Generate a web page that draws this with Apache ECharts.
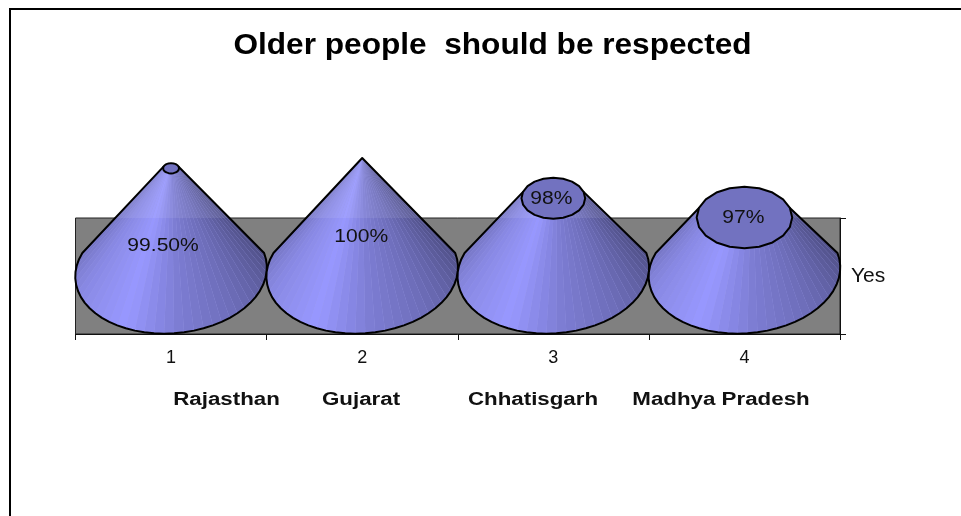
<!DOCTYPE html>
<html>
<head>
<meta charset="utf-8">
<style>
  html, body { margin: 0; padding: 0; background: #fff; }
  #chart { width: 961px; height: 516px; }
</style>
<script src="https://cdn.jsdelivr.net/npm/echarts@6/dist/echarts.min.js"></script>
</head>
<body>
<div id="chart"></div>
<script>
// Chart data
const chartTitle = 'Older people  should be respected';
const categories = ['1', '2', '3', '4'];
const regions = ['Rajasthan', 'Gujarat', 'Chhatisgarh', 'Madhya Pradesh'];
const seriesName = 'Yes';
const yesValues = [0.995, 1, 0.98, 0.97];
const yesLabels = ['99.50%', '100%', '98%', '97%'];

// Axis range of the cones, the original value axis was hidden
const axisMin = 0.94;
const axisMax = 1;

// Layout of the texts that are not on an axis
const regionCenters = [226.5, 361, 533, 721];
const labelOffsets = [[-8, 78], [-1, 79], [-2, 1], [-1, 1]];

const wallTopY = 218;
const ellipseRatio = 0.645;
const baseShear = 7;
const startAngle = -18;
const endAngle = 198;
const facetStep = 6;

// Shade of the cone side by angle around the base
const shadeStops = [
    [-18, [78, 78, 132]],
    [40, [108, 108, 182]],
    [80, [124, 124, 210]],
    [115, [152, 152, 255]],
    [160, [136, 136, 226]],
    [198, [114, 114, 190]]
];

function shadeAt(angle) {
    for (let i = 1; i < shadeStops.length; i++) {
        if (angle <= shadeStops[i][0]) {
            const a = shadeStops[i - 1];
            const b = shadeStops[i];
            const k = (angle - a[0]) / (b[0] - a[0]);
            return a[1].map((c, n) => Math.round(c + (b[1][n] - c) * k));
        }
    }
    return shadeStops[shadeStops.length - 1][1];
}

// Facets above the back wall were exported lighter
function facetFill(rgb, top, bottom) {
    const base = 'rgb(' + rgb.join(',') + ')';
    const light = 'rgb(' + rgb.map(c => Math.round(c + (255 - c) * 0.08)).join(',') + ')';
    if (bottom <= wallTopY) return light;
    if (top >= wallTopY) return base;
    const k = (wallTopY - top) / (bottom - top);
    return {
        type: 'linear', x: 0, y: top, x2: 0, y2: bottom, global: true,
        colorStops: [
            { offset: 0, color: light },
            { offset: k, color: light },
            { offset: k, color: base },
            { offset: 1, color: base }
        ]
    };
}

function ellipsePoint(cx, cy, rx, angle, shear) {
    const t = angle * Math.PI / 180;
    return [cx + rx * Math.cos(t) - shear * Math.sin(t), cy + rx * ellipseRatio * Math.sin(t)];
}

function renderCone(params, api) {
    const idx = api.value(0);
    const value = api.value(1);
    const base = api.coord([idx, axisMin]);
    const apex = api.coord([idx, axisMax]);
    const radius = api.size([1, 0])[0] / 2;
    const fraction = (value - axisMin) / (axisMax - axisMin);
    // small perspective correction of the 3D view
    const topY = base[1] - fraction * (base[1] - apex[1]) * (0.912 + 0.088 * fraction);
    const topR = radius * (1 - fraction);
    const cx = base[0];

    const children = [];
    const outline = [];
    const baseOutline = [];
    const topOutline = [];
    for (let a = startAngle; a <= endAngle; a += facetStep) {
        baseOutline.push(ellipsePoint(cx, base[1], radius, a, baseShear));
        topOutline.push(topR > 0.5 ? ellipsePoint(cx, topY, topR, a, 0) : [cx, apex[1]]);
    }
    baseOutline.forEach(p => outline.push(p));
    outline.push(topOutline[topOutline.length - 1]);
    outline.push(topOutline[0]);

    children.push({
        type: 'polygon',
        shape: { points: outline },
        style: { fill: '#9a9ae6' }
    });

    for (let i = 0; i < baseOutline.length - 1; i++) {
        const pts = [baseOutline[i], baseOutline[i + 1], topOutline[i + 1], topOutline[i]];
        const ys = pts.map(p => p[1]);
        children.push({
            type: 'polygon',
            shape: { points: pts },
            style: {
                fill: facetFill(shadeAt(startAngle + (i + 0.5) * facetStep), Math.min.apply(null, ys), Math.max.apply(null, ys))
            }
        });
    }

    children.push({
        type: 'polygon',
        shape: { points: outline },
        style: { fill: 'none', stroke: '#000', lineWidth: 2, lineJoin: 'round' }
    });

    if (topR > 0.5) {
        const cap = [];
        for (let a = 0; a < 360; a += 18) cap.push(ellipsePoint(cx, topY, topR, a, 0));
        children.push({
            type: 'polygon',
            shape: { points: cap },
            style: { fill: '#7272c0', stroke: '#000', lineWidth: 2, lineJoin: 'round' }
        });
    }

    children.push({
        type: 'text',
        x: cx + labelOffsets[idx][0],
        y: topY + labelOffsets[idx][1],
        scaleX: 1.17,
        style: {
            text: yesLabels[idx],
            align: 'center',
            verticalAlign: 'middle',
            fill: '#111',
            font: '18px "Liberation Sans"'
        }
    });

    return { type: 'group', children: children };
}

const chart = echarts.init(document.getElementById('chart'), null, { renderer: 'canvas' });

const option = {
    animation: false,
    backgroundColor: '#fff',
    textStyle: { fontFamily: '"Liberation Sans"' },
    grid: [
        // back wall
        { left: 75.5, right: 121, top: 218, bottom: 182, show: true, backgroundColor: '#808080', borderColor: '#222', borderWidth: 1 },
        // cones, from floor to axis maximum
        { left: 75.5, right: 121, top: 158, bottom: 244 }
    ],
    xAxis: [
        {
            type: 'category', gridIndex: 0, data: categories,
            axisLine: { lineStyle: { color: '#111', width: 1 } },
            axisTick: { show: true, length: 6, lineStyle: { color: '#111' } },
            axisLabel: { color: '#111', fontSize: 18, margin: 15 }
        },
        { type: 'category', gridIndex: 1, data: categories, show: false }
    ],
    yAxis: [
        {
            type: 'category', gridIndex: 0, position: 'right', data: [seriesName],
            axisLine: { lineStyle: { color: '#111', width: 1 } },
            axisTick: { show: true, length: 6, lineStyle: { color: '#111' } },
            axisLabel: { color: '#111', fontSize: 21, margin: 11 }
        },
        { type: 'value', gridIndex: 1, min: axisMin, max: axisMax, interval: 0.02, show: false }
    ],
    series: [{
        name: seriesName,
        type: 'custom',
        xAxisIndex: 1,
        yAxisIndex: 1,
        coordinateSystem: 'cartesian2d',
        clip: false,
        renderItem: renderCone,
        encode: { x: 0, y: 1 },
        data: yesValues.map((v, i) => [i, v])
    }],
    graphic: [
        {
            type: 'polyline',
            shape: { points: [[10, 516], [10, 9], [961, 9]] },
            style: { stroke: '#000', lineWidth: 2, fill: 'none' }
        },
        {
            type: 'text',
            x: 492.5,
            y: 46,
            scaleX: 1.09,
            style: {
                text: chartTitle,
                align: 'center',
                verticalAlign: 'middle',
                fill: '#000',
                font: 'bold 29px "Liberation Sans"'
            }
        }
    ].concat(regions.map((name, i) => ({
        type: 'text',
        x: regionCenters[i],
        y: 400,
        scaleX: 1.24,
        style: {
            text: name,
            align: 'center',
            verticalAlign: 'middle',
            fill: '#111',
            font: 'bold 18px "Liberation Sans"'
        }
    })))
};
chart.setOption(option);
</script>
</body>
</html>
